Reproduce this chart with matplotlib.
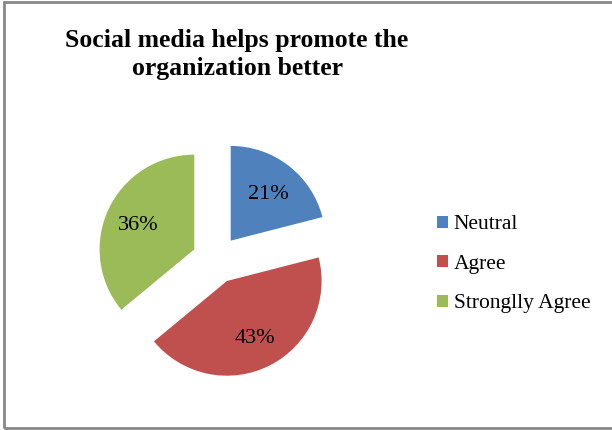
import matplotlib
matplotlib.use("Agg")
import matplotlib.pyplot as plt
from matplotlib.patches import Rectangle

labels = ["Neutral", "Agree", "Strongly Agree"]
legend_labels = ["Neutral", "Agree", "Stronglly Agree"]
shares = [21, 43, 36]
colors = ["#4F81BD", "#C0504D", "#9BBB59"]
title_lines = ["Social media helps promote the", "organization better"]

W, H = 612, 430
fig = plt.figure(figsize=(W / 100, H / 100), dpi=100)
ax = fig.add_axes([0, 0, 1, 1])

serif = ["Liberation Serif", "DejaVu Serif"]

# axes are in pixel units, so explode is an offset in pixels
wedges, texts, autotexts = ax.pie(
    shares,
    colors=colors,
    startangle=90,
    counterclock=False,
    explode=[24, 24, 24],
    radius=94.7,
    center=(216, H - 259.6),
    autopct="%d%%",
    pctdistance=0.65,
    textprops=dict(family=serif, fontsize=16, color="black"),
    frame=True,
)
for t in autotexts:
    t.set_va("center_baseline")
ax.set_xlim(0, W)
ax.set_ylim(0, H)
ax.set_aspect("equal")
ax.axis("off")

for line, base in zip(title_lines, [47.3, 75.0]):
    ax.text(237, H - base, line, ha="center", va="baseline",
            family=serif, fontsize=18.5, fontweight="bold")

leg = ax.legend(wedges, legend_labels, loc="upper left",
                bbox_to_anchor=(418 / W, 1 - 196 / H),
                bbox_transform=fig.transFigure, frameon=False,
                prop=dict(family=serif, size=15.5),
                handlelength=0.5, handleheight=0.5,
                handletextpad=0.25, labelspacing=0.95)

# chart frame (right edge runs off the canvas)
fig.patches.append(Rectangle((4 / W, 2 / H), 1.2, 1 - 4 / H,
                             transform=fig.transFigure, fill=False,
                             edgecolor="#878787", linewidth=2))

fig.savefig("out.png", dpi=100)
